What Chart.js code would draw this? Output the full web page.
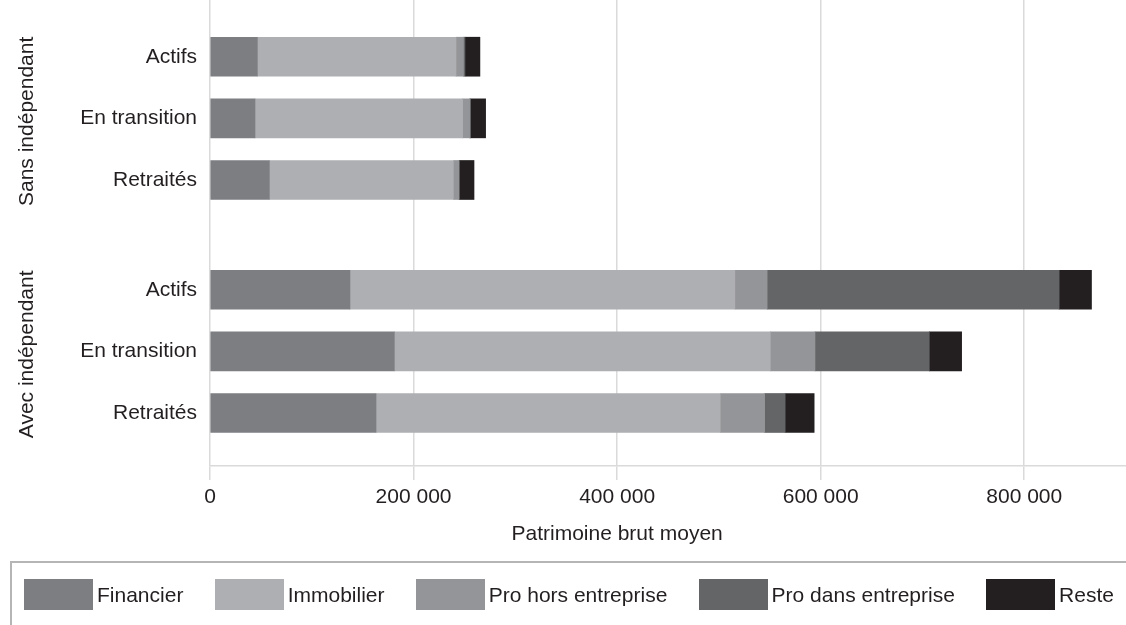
<!DOCTYPE html>
<html><head><meta charset="utf-8">
<script src="https://cdn.jsdelivr.net/npm/chart.js@4.4.1/dist/chart.umd.min.js"></script>
<style>
html,body{margin:0;padding:0;background:#fff;width:1126px;height:625px;overflow:hidden;font-family:"Liberation Sans",Arial,sans-serif;}
#chartBox{position:absolute;left:0;top:0;width:1126px;height:562px;}
#legend{position:absolute;left:10px;top:561px;width:1200px;height:100px;border-top:2px solid #b5b5b5;border-left:2px solid #b5b5b5;box-sizing:border-box;}
#legendItems{position:absolute;left:12px;top:16px;width:1090px;display:flex;justify-content:space-between;}
.item{display:flex;align-items:center;height:31px;font-size:21px;color:#231f20;white-space:nowrap;}
.sw{width:69px;height:31px;margin-right:4px;}
</style></head><body>
<div id="chartBox"><canvas id="c" width="1126" height="562"></canvas></div>
<div id="legend"><div id="legendItems"></div></div>
<script>
// ---- data ----
const rowLabels = ['Actifs','En transition','Retraités','Actifs','En transition','Retraités'];
const rowGroups = [0,0,0,1,1,1];
const groupLabels = ['Sans indépendant','Avec indépendant'];
const rowSlots = [0,1,2,3.78,4.78,5.78];
const seriesNames = ['Financier','Immobilier','Pro hors entreprise','Pro dans entreprise','Reste'];
const financier   = [46500, 44200, 58300, 137500, 181100, 163100];
const immobilier  = [195200, 204000, 180800, 378200, 369400, 338200];
const proHors     = [7300, 6900, 5400, 31700, 43900, 43600];
const proDans     = [1500, 1000, 500, 286900, 112300, 20200];
const reste       = [14700, 14700, 14400, 31800, 31800, 28500];
const xTickValues = [0, 200000, 400000, 600000, 800000];
const axisTitle = 'Patrimoine brut moyen';

// ---- styles ----
const colors = ['#7d7e82', '#aeafb2', '#949598', '#646567', '#231f20'];
const textColor = '#231f20';
const gridColor = '#dadada';
const fontFamily = '"Liberation Sans", Arial, sans-serif';
const fontSize = 21;

const seriesValues = [financier, immobilier, proHors, proDans, reste];
const fmt = v => String(v).replace(/\B(?=(\d{3})+(?!\d))/g, ' ');

const annot = {
  id: 'annot',
  afterDraw(chart) {
    const {ctx, scales: {x, y}} = chart;
    ctx.save();
    ctx.fillStyle = textColor;
    ctx.font = fontSize + 'px ' + fontFamily;
    ctx.textAlign = 'center';
    ctx.textBaseline = 'middle';
    groupLabels.forEach((g, gi) => {
      const slots = rowSlots.filter((s, i) => rowGroups[i] === gi);
      const mid = (Math.min(...slots) + Math.max(...slots)) / 2;
      const py = y.getPixelForValue(mid) + 3;
      ctx.save();
      ctx.translate(27, py);
      ctx.rotate(-Math.PI / 2);
      ctx.fillText(g, 0, 0);
      ctx.restore();
    });
    const tx = (x.getPixelForValue(xTickValues[0]) + x.getPixelForValue(xTickValues[xTickValues.length - 1])) / 2;
    ctx.fillText(axisTitle, tx, x.bottom - 28);
    ctx.restore();
  }
};

const chart = new Chart(document.getElementById('c'), {
  type: 'bar',
  data: {
    datasets: seriesNames.map((name, si) => ({
      label: name,
      data: seriesValues[si].map((v, i) => ({x: v, y: rowSlots[i]})),
      backgroundColor: colors[si],
      borderWidth: 0,
      barThickness: 39
    }))
  },
  options: {
    responsive: false,
    animation: false,
    indexAxis: 'y',
    layout: {padding: 0},
    plugins: {legend: {display: false}, tooltip: {enabled: false}},
    scales: {
      x: {
        type: 'linear', stacked: true, min: 0, max: 900000,
        afterBuildTicks: s => { s.ticks = xTickValues.map(v => ({value: v})); },
        afterFit: s => { s.height = 96; },
        grid: {color: gridColor, lineWidth: 1.5, tickLength: 14, drawTicks: true},
        border: {display: true, color: gridColor, width: 1.5},
        ticks: {padding: 5, color: textColor, font: {size: fontSize, family: fontFamily}, maxRotation: 0, autoSkip: false, callback: v => fmt(v)}
      },
      y: {
        type: 'linear', stacked: true, reverse: true, min: -0.92, max: 6.64, offset: false,
        afterBuildTicks: s => { s.ticks = rowSlots.map(v => ({value: v})); },
        afterFit: s => { s.width = 210; s.paddingTop = 0; s.paddingBottom = 0; },
        grid: {display: false, drawTicks: false},
        border: {display: false},
        ticks: {padding: 13, color: textColor, font: {size: fontSize, family: fontFamily}, autoSkip: false, callback: (v, i) => rowLabels[i]}
      }
    }
  },
  plugins: [annot]
});

// HTML legend built from the chart's datasets
const li = document.getElementById('legendItems');
chart.data.datasets.forEach(ds => {
  const it = document.createElement('div'); it.className = 'item';
  const sw = document.createElement('div'); sw.className = 'sw'; sw.style.background = ds.backgroundColor;
  const tx = document.createElement('span'); tx.textContent = ds.label;
  it.appendChild(sw); it.appendChild(tx); li.appendChild(it);
});
</script>
</body></html>
